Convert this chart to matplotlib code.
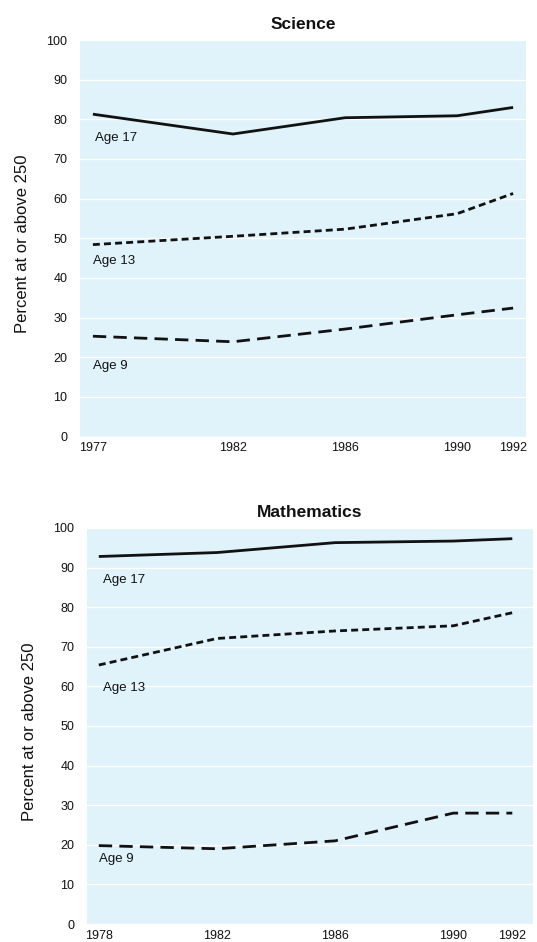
import matplotlib.pyplot as plt

plt.rcParams['font.family'] = ['Liberation Sans', 'DejaVu Sans']

# Science
sci_years = [1977, 1982, 1986, 1990, 1992]
sci_age17 = [81.3, 76.3, 80.4, 80.9, 83.0]
sci_age13 = [48.4, 50.5, 52.3, 56.2, 61.3]
sci_age9 = [25.3, 23.9, 27.1, 30.7, 32.4]

# Mathematics
math_years = [1978, 1982, 1986, 1990, 1992]
math_age17 = [92.8, 93.8, 96.3, 96.7, 97.3]
math_age13 = [65.4, 72.1, 74.0, 75.3, 78.6]
math_age9 = [19.8, 19.0, 21.0, 28.0, 28.0]

bg = "#e0f2fa"
ink = "#111111"

fig = plt.figure(figsize=(5.37, 9.42), dpi=100)
ax1 = fig.add_axes([0.149, 0.5366, 0.8305, 0.4209])
ax2 = fig.add_axes([0.162, 0.0191, 0.8305, 0.4204])


def style(ax, title, years, xlim):
    ax.set_facecolor(bg)
    for s in ax.spines.values():
        s.set_visible(False)
    ax.set_ylim(0, 100)
    ax.set_xlim(*xlim)
    ax.set_yticks(range(0, 101, 10))
    ax.set_xticks(years)
    ax.set_xticklabels([str(y) for y in years])
    ax.tick_params(axis="y", length=0, pad=9, labelsize=9, colors=ink)
    ax.tick_params(axis="x", length=0, pad=4, labelsize=9, colors=ink)
    ax.yaxis.grid(True, color="white", linewidth=1.0)
    ax.set_axisbelow(True)
    ax.set_title(title, fontsize=12.5, fontweight="bold", color=ink, pad=8)
    ax.set_ylabel("Percent at or above 250", fontsize=12, color=ink)
    ax.yaxis.set_label_coords(-0.112, 0.485)


def lines(ax, years, a17, a13, a9):
    ax.plot(years, a17, color=ink, linewidth=2.0, solid_capstyle="butt")
    ax.plot(years, a13, color=ink, linewidth=2.0, dashes=(2.5, 1.5))
    ax.plot(years, a9, color=ink, linewidth=2.0, dashes=(4.8, 2.6))


style(ax1, "Science", sci_years, (1976.54, 1992.46))
lines(ax1, sci_years, sci_age17, sci_age13, sci_age9)
ax1.text(1977.07, 75.3, "Age 17", fontsize=9.5, va="center", color=ink)
ax1.text(1977.0, 44.3, "Age 13", fontsize=9.5, va="center", color=ink)
ax1.text(1977.0, 17.8, "Age 9", fontsize=9.5, va="center", color=ink)

style(ax2, "Mathematics", math_years, (1977.6, 1992.7))
lines(ax2, math_years, math_age17, math_age13, math_age9)
ax2.text(1978.14, 86.9, "Age 17", fontsize=9.5, va="center", color=ink)
ax2.text(1978.14, 59.6, "Age 13", fontsize=9.5, va="center", color=ink)
ax2.text(1978.0, 16.4, "Age 9", fontsize=9.5, va="center", color=ink)

fig.savefig("out.png", dpi=100)
